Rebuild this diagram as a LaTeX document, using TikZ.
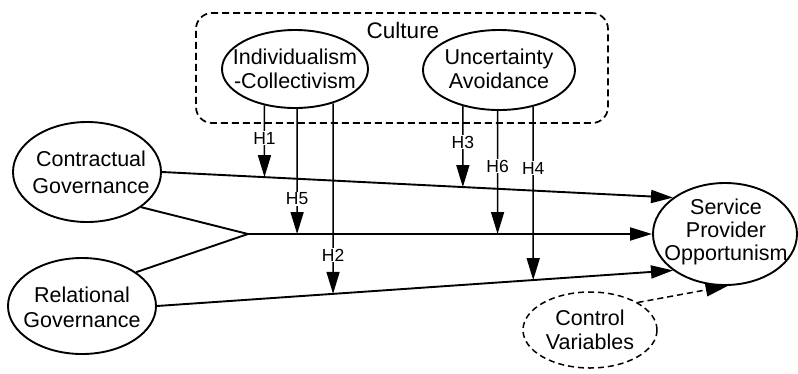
\documentclass[tikz,border=0pt]{standalone}
\usepackage{fontspec}
\setmainfont{Liberation Sans}
\usetikzlibrary{shapes.geometric,arrows.meta,intersections}
\begin{document}
\begin{tikzpicture}[x=1pt,y=-1pt,
  ell/.style={draw, ellipse, line width=1.9pt, inner sep=0pt},
  dell/.style={ell, line width=1.5pt, dash pattern=on 6pt off 4pt},
  txt/.style={align=center, font=\fontsize{21.5}{24}\selectfont, inner sep=0pt},
  hlab/.style={fill=white, inner sep=1.2pt, font=\fontsize{17.5}{17.5}\selectfont},
  tip/.style={-{Triangle[length=22pt,width=13pt]}},
  arr/.style={line width=1.9pt, tip},
  mod/.style={line width=1.5pt, tip},
  link/.style={line width=1.9pt},
  cbox/.style={draw, dash pattern=on 7pt off 4pt, rounded corners=16pt, line width=1.7pt, inner sep=0pt}
]
\useasboundingbox (0,0) rectangle (798,373);

% culture box
\node[cbox, minimum width=412pt, minimum height=110pt] (culture) at (402,68) {};
\node[txt, font=\fontsize{22.5}{24}\selectfont] (cult) at (403,30) {Culture};

% ellipses
\node[ell, minimum width=146pt, minimum height=78pt] (ic) at (295,69) {};
\node[txt] (ict) at (295,69) {Individualism\\-Collectivism};
\node[ell, minimum width=152pt, minimum height=80pt] (ua) at (499,70) {};
\node[txt] (uat) at (499,69) {Uncertainty\\Avoidance};
\node[ell, minimum width=148pt, minimum height=100pt] (cg) at (87,172) {};
\node[txt, font=\fontsize{21.5}{27}\selectfont] (cgt) at (91,172) {Contractual\\Governance};
\node[ell, minimum width=148pt, minimum height=96pt] (rg) at (82,306) {};
\node[txt, font=\fontsize{21.5}{25}\selectfont] (rgt) at (82,307) {Relational\\Governance};
\node[ell, minimum width=144pt, minimum height=102pt] (spo) at (725,234) {};
\node[txt, font=\fontsize{21.5}{23}\selectfont] (spot) at (726,232) {Service\\Provider\\Opportunism};
\node[dell, minimum width=134pt, minimum height=76pt] (cv) at (590,330) {};
\node[txt] (cvt) at (590,330) {Control\\Variables};

% main paths
\coordinate (j) at (248,234);
\draw[arr] (cg.east) -- (spo.145);
\draw[link] (cg.-33) -- (j);
\draw[link] (rg.32) -- (j);
\draw[arr] (j) -- (spo.west);
\draw[arr] (rg.east) -- (spo.215);
\draw[line width=1.5pt, dash pattern=on 6pt off 4pt, tip] (cv.30) -- (spo.-87);

\path[name path=cl] (cg.east) -- (spo.145);
\path[name path=ml] (j) -- (spo.west);
\path[name path=rl] (rg.east) -- (spo.215);

% moderators
\path[name path=v1] (ic.-130.1) -- ++(0,300);
\path[name path=v5] (ic.-87.1) -- ++(0,300);
\path[name path=v2] (ic.-42.2) -- ++(0,300);
\path[name path=v3] (ua.-135.6) -- ++(0,300);
\path[name path=v6] (ua.-92.9) -- ++(0,300);
\path[name path=v4] (ua.-47.5) -- ++(0,300);
\path[name intersections={of=cl and v1, by=e1}];
\path[name intersections={of=ml and v5, by=e5}];
\path[name intersections={of=rl and v2, by=e2}];
\path[name intersections={of=cl and v3, by=e3}];
\path[name intersections={of=ml and v6, by=e6}];
\path[name intersections={of=rl and v4, by=e4}];

\draw[mod] (ic.-130.1) -- (e1);
\draw[mod] (ic.-87.1) -- (e5);
\draw[mod] (ic.-42.2) -- (e2);
\draw[mod] (ua.-135.6) -- (e3);
\draw[mod] (ua.-92.9) -- (e6);
\draw[mod] (ua.-47.5) -- (e4);

\node[hlab] (h1) at (e1 |- 0,138) {H1};
\node[hlab] (h5) at (e5 |- 0,199) {H5};
\node[hlab] (h2) at (e2 |- 0,255) {H2};
\node[hlab] (h3) at (e3 |- 0,142) {H3};
\node[hlab] (h6) at (e6 |- 0,166) {H6};
\node[hlab] (h4) at (e4 |- 0,168) {H4};
\end{tikzpicture}
\end{document}
